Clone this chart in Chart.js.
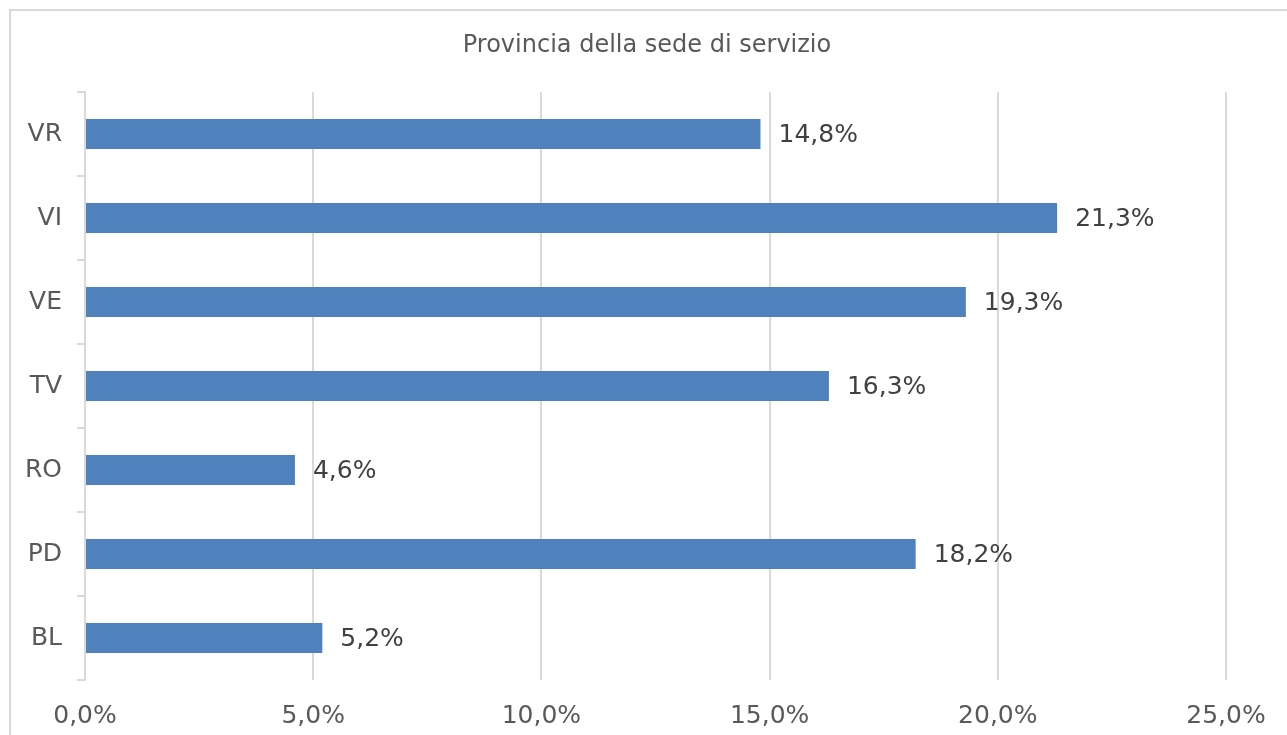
<!DOCTYPE html>
<html>
<head>
<meta charset="utf-8">
<script src="https://cdn.jsdelivr.net/npm/chart.js@4/dist/chart.umd.min.js"></script>
<style>
  html, body { margin: 0; padding: 0; background: #ffffff; overflow: hidden; }
  #wrap { position: relative; width: 1287px; height: 735px; }
  #frame { position: absolute; left: 9px; top: 9px; width: 1400px; height: 800px;
           border-left: 2px solid #d9d9d9; border-top: 2px solid #d9d9d9; box-sizing: border-box; }
  canvas { position: absolute; left: 0; top: 0; }
</style>
</head>
<body>
<div id="wrap">
  <div id="frame"></div>
  <canvas id="c" width="1287" height="735"></canvas>
</div>
<script>
const chartTitle = "Provincia della sede di servizio";
const categories = ["VR", "VI", "VE", "TV", "RO", "PD", "BL"];
const values = [14.8, 21.3, 19.3, 16.3, 4.6, 18.2, 5.2];
const xTicks = [0, 5, 10, 15, 20, 25];

const FONT = "'DejaVu Sans', Verdana, sans-serif";
const fmt = v => v.toFixed(1).replace('.', ',') + '%';

const labelPlugin = {
  id: 'labels',
  afterDatasetsDraw(chart) {
    const ctx = chart.ctx;
    ctx.save();
    ctx.font = "25px " + FONT;
    ctx.fillStyle = '#404040';
    ctx.textAlign = 'left';
    ctx.textBaseline = 'middle';
    chart.getDatasetMeta(0).data.forEach((bar, i) => {
      ctx.fillText(fmt(values[i]), bar.x + 18, bar.y + 1);
    });
    ctx.restore();
  },
  afterDraw(chart) {
    const ctx = chart.ctx;
    ctx.save();
    ctx.font = "24px " + FONT;
    ctx.fillStyle = '#595959';
    ctx.textAlign = 'center';
    ctx.textBaseline = 'middle';
    ctx.fillText(chartTitle, 647, 46);
    ctx.restore();
  }
};

new Chart(document.getElementById('c'), {
  type: 'bar',
  data: {
    labels: categories,
    datasets: [{
      data: values,
      backgroundColor: '#4f81bd',
      borderWidth: 0,
      categoryPercentage: 1.0,
      barPercentage: 0.357
    }]
  },
  plugins: [labelPlugin],
  options: {
    indexAxis: 'y',
    responsive: false,
    animation: false,
    layout: { padding: { left: 0, right: 61, top: 92, bottom: 0 } },
    plugins: { legend: { display: false }, title: { display: false }, tooltip: { enabled: false } },
    scales: {
      x: {
        min: 0, max: 25,
        afterBuildTicks(scale) { scale.ticks = xTicks.map(v => ({ value: v })); },
        afterFit(scale) { scale.height = 55; },
        border: { display: false },
        grid: { color: '#d9d9d9', lineWidth: 2, drawTicks: false },
        ticks: {
          padding: 21,
          color: '#595959',
          font: { family: FONT, size: 25 },
          callback: v => fmt(v)
        }
      },
      y: {
        afterFit(scale) { scale.width = 85; },
        border: { display: true, color: '#d9d9d9', width: 2 },
        grid: { drawOnChartArea: false, drawTicks: true, tickLength: 8, color: '#d9d9d9', lineWidth: 2, offset: true },
        ticks: {
          padding: 15,
          color: '#595959',
          font: { family: FONT, size: 25 }
        }
      }
    }
  }
});
</script>
</body>
</html>
